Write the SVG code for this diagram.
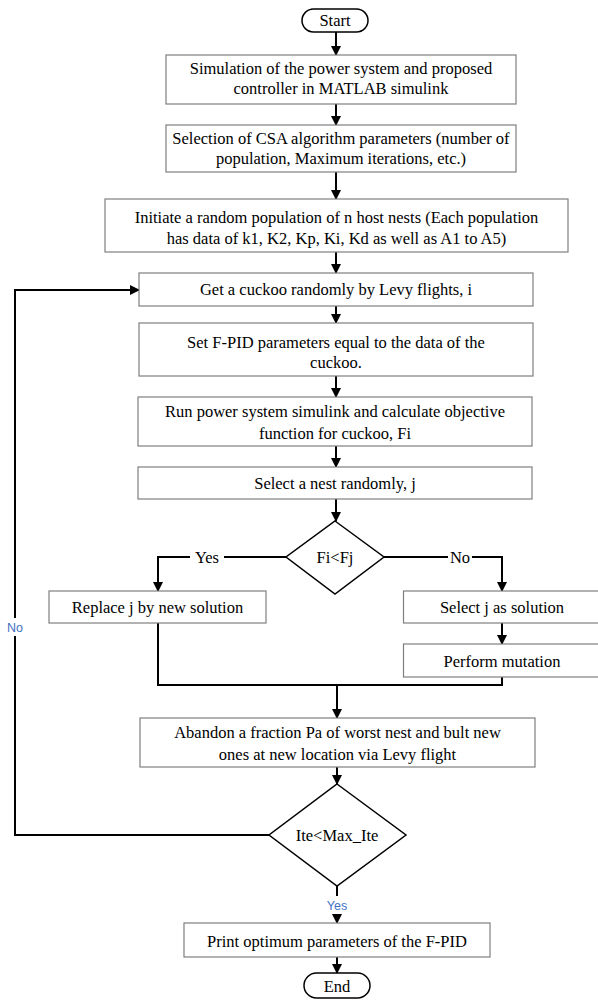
<svg xmlns="http://www.w3.org/2000/svg" width="598" height="1001" viewBox="0 0 598 1001">
<style>
.box{fill:#fff;stroke:#7f7f7f;stroke-width:1.2}
.term{fill:#fff;stroke:#000;stroke-width:1.5}
.dia{fill:#fff;stroke:#000;stroke-width:1.5}
.t{font-family:'Liberation Serif','DejaVu Serif',serif;font-size:16.5px;fill:#000;text-anchor:middle}
.lbl{font-family:'Liberation Sans','Open Sans',sans-serif;font-size:12.5px;fill:#4472c4;text-anchor:middle}
.c{fill:none;stroke:#000;stroke-width:2}
</style>
<defs>
<marker id="ah" markerWidth="10" markerHeight="10" refX="9" refY="5" orient="auto" markerUnits="userSpaceOnUse">
<path d="M0,0 L10,5 L0,10 Z" fill="#000"/>
</marker>
</defs>
<g id="connectors">
<line class="c" x1="336" y1="32" x2="336" y2="55" marker-end="url(#ah)"/>
<line class="c" x1="336" y1="104" x2="336" y2="125" marker-end="url(#ah)"/>
<line class="c" x1="336" y1="172" x2="336" y2="199" marker-end="url(#ah)"/>
<line class="c" x1="336" y1="252" x2="336" y2="273" marker-end="url(#ah)"/>
<line class="c" x1="336" y1="306" x2="336" y2="323" marker-end="url(#ah)"/>
<line class="c" x1="336" y1="376" x2="336" y2="397" marker-end="url(#ah)"/>
<line class="c" x1="336" y1="446" x2="336" y2="467" marker-end="url(#ah)"/>
<line class="c" x1="336" y1="499" x2="336" y2="521" marker-end="url(#ah)"/>
<polyline class="c" points="286,557 158,557 158,591" marker-end="url(#ah)"/>
<polyline class="c" points="384,557 502,557 502,591" marker-end="url(#ah)"/>
<line class="c" x1="502" y1="623" x2="502" y2="644" marker-end="url(#ah)"/>
<polyline class="c" points="158,623 158,685 502,685 502,677"/>
<line class="c" x1="337" y1="685" x2="337" y2="718" marker-end="url(#ah)"/>
<line class="c" x1="337" y1="767" x2="337" y2="784" marker-end="url(#ah)"/>
<polyline class="c" points="269,835 15,835 15,290 139,290" marker-end="url(#ah)"/>
<line class="c" x1="337" y1="886" x2="337" y2="896"/>
<line class="c" x1="337" y1="914" x2="337" y2="923" marker-end="url(#ah)"/>
<line class="c" x1="337" y1="957" x2="337" y2="973" marker-end="url(#ah)"/>
<rect x="190" y="549" width="34" height="16" fill="#fff"/>
<text class="t" x="207" y="563">Yes</text>
<rect x="448" y="549" width="24" height="16" fill="#fff"/>
<text class="t" x="460" y="563">No</text>
<rect x="5" y="618" width="20" height="18" fill="#fff"/>
<text class="lbl" x="15" y="632">No</text>
<text class="lbl" x="337" y="910">Yes</text>
</g>
<g id="start">
<rect class="term" x="302" y="9" width="66" height="23" rx="11.5"/>
<text class="t" x="335" y="26">Start</text>
</g>
<g id="simulation">
<rect class="box" x="166" y="55" width="350" height="49"/>
<text class="t" x="341" y="74">Simulation of the power system and proposed</text>
<text class="t" x="341" y="94">controller in MATLAB simulink</text>
</g>
<g id="selection">
<rect class="box" x="166" y="125" width="350" height="47"/>
<text class="t" x="341" y="144">Selection of CSA algorithm parameters (number of</text>
<text class="t" x="341" y="164">population, Maximum iterations, etc.)</text>
</g>
<g id="initiate">
<rect class="box" x="105" y="199" width="463" height="53"/>
<text class="t" x="336.5" y="223">Initiate a random population of n host nests (Each population</text>
<text class="t" x="336.5" y="244">has data of k1, K2, Kp, Ki, Kd as well as A1 to A5)</text>
</g>
<g id="getcuckoo">
<rect class="box" x="139" y="273" width="394" height="33"/>
<text class="t" x="336" y="295">Get a cuckoo randomly by Levy flights, i</text>
</g>
<g id="setfpid">
<rect class="box" x="139" y="323" width="394" height="53"/>
<text class="t" x="336" y="348">Set F-PID parameters equal to the data of the</text>
<text class="t" x="336" y="368">cuckoo.</text>
</g>
<g id="runpower">
<rect class="box" x="138" y="397" width="394" height="49"/>
<text class="t" x="335" y="417">Run power system simulink and calculate objective</text>
<text class="t" x="335" y="439">function for cuckoo, Fi</text>
</g>
<g id="selectnest">
<rect class="box" x="138" y="467" width="394" height="32"/>
<text class="t" x="335" y="489">Select a nest randomly, j</text>
</g>
<g id="decision1">
<polygon class="dia" points="335,521 384,557 335,594 286,557"/>
<text class="t" x="335" y="563">Fi&lt;Fj</text>
</g>
<g id="replace">
<rect class="box" x="49" y="591" width="217" height="32"/>
<text class="t" x="157.5" y="613">Replace j by new solution</text>
</g>
<g id="selectj">
<rect class="box" x="403.5" y="591" width="200" height="32"/>
<text class="t" x="502" y="613">Select j as solution</text>
</g>
<g id="mutation">
<rect class="box" x="403.5" y="644" width="200" height="33"/>
<text class="t" x="502" y="667">Perform mutation</text>
</g>
<g id="abandon">
<rect class="box" x="140" y="718" width="395" height="49"/>
<text class="t" x="337.5" y="738">Abandon a fraction Pa of worst nest and bult new</text>
<text class="t" x="337.5" y="760">ones at new location via Levy flight</text>
</g>
<g id="decision2">
<polygon class="dia" points="337,784 406,835 337,886 269,835"/>
<text class="t" x="337" y="841">Ite&lt;Max_Ite</text>
</g>
<g id="print">
<rect class="box" x="184" y="923" width="306" height="34"/>
<text class="t" x="337" y="947">Print optimum parameters of the F-PID</text>
</g>
<g id="end">
<rect class="term" x="304" y="973" width="66" height="25" rx="12.5"/>
<text class="t" x="337" y="992">End</text>
</g>
</svg>
